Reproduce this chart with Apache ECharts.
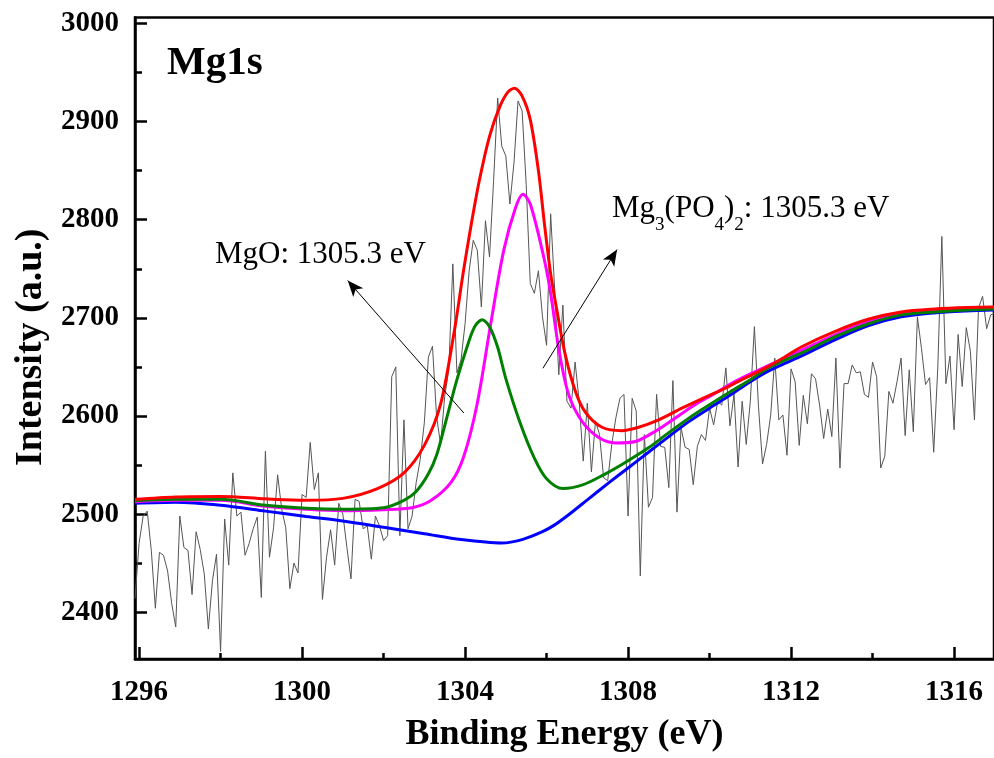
<!DOCTYPE html>
<html>
<head>
<meta charset="utf-8">
<title>Mg1s XPS</title>
<script src="https://cdn.jsdelivr.net/npm/echarts@6.0.0/dist/echarts.min.js"></script>
<style>
  html, body { margin: 0; padding: 0; background: #fff; }
  #chart { width: 994px; height: 758px; }
</style>
</head>
<body>
<div id="chart"></div>
<script>
// raw counts, one every 0.1 eV from 1295.9 eV
const rawCounts = [
  2414, 2470, 2498, 2503, 2463, 2404, 2461, 2458, 2442, 2409, 2385, 2498, 2466, 2463, 2418, 2482,
  2464, 2439, 2383, 2432, 2459, 2360, 2495, 2448, 2542, 2498, 2502, 2458, 2470, 2485, 2497, 2415,
  2564, 2456, 2486, 2540, 2505, 2486, 2424, 2450, 2440, 2520, 2517, 2573, 2525, 2542, 2413, 2456,
  2484, 2448, 2511, 2500, 2466, 2434,
  2515, 2513, 2485, 2488, 2454, 2498, 2488, 2473, 2478, 2640, 2650, 2478, 2596, 2485, 2498, 2532,
  2556, 2593, 2660, 2671, 2600, 2571, 2620, 2647, 2755, 2644, 2657, 2694, 2748, 2779, 2769, 2711,
  2799, 2762, 2840, 2924, 2875, 2865, 2816, 2858, 2921, 2911, 2836, 2735, 2725, 2748, 2701, 2672,
  2806, 2728,
  2642, 2713, 2615, 2608, 2655, 2615, 2554, 2613, 2543, 2595, 2581, 2537, 2534, 2571, 2598, 2618,
  2622, 2498, 2618, 2605, 2437, 2581, 2507, 2517, 2622, 2569, 2568, 2527, 2636, 2502, 2588, 2568,
  2566, 2530, 2569, 2581, 2575, 2608, 2591, 2615, 2611, 2649, 2590, 2622, 2548, 2615, 2571, 2615,
  2691, 2610, 2551, 2571, 2601, 2659,
  2596, 2601, 2560, 2648, 2635, 2570, 2621, 2592, 2643, 2638, 2611, 2577, 2607, 2579, 2659, 2547,
  2633, 2633, 2652, 2644, 2645, 2622, 2619, 2655, 2640, 2547, 2559, 2625, 2613, 2635, 2659, 2580,
  2647, 2584, 2701, 2669, 2632, 2639, 2563, 2649, 2783, 2633, 2661, 2586, 2683, 2630, 2690, 2666,
  2596, 2710, 2722, 2689, 2703, 2705
];
const rawStart = 1295.9;
const rawStep = 0.1;

// fitted curves, [binding energy, intensity]
const background = [
  [1295.9, 2511], [1296.9, 2512], [1298.0, 2509], [1299.1, 2503], [1300.1, 2497.5], [1301.0, 2493],
  [1302.0, 2486.5], [1303.0, 2480], [1303.9, 2474], [1304.9, 2470.5], [1305.4, 2474], [1305.9, 2482],
  [1306.2, 2489], [1306.5, 2498], [1307.0, 2514.5], [1307.5, 2531], [1308.0, 2547], [1308.5, 2563],
  [1309.0, 2579], [1309.5, 2594.5], [1310.0, 2608], [1310.5, 2621], [1311.0, 2635], [1311.5, 2647],
  [1312.3, 2662], [1313.1, 2678], [1313.9, 2692], [1314.7, 2701], [1315.5, 2705], [1316.3, 2707],
  [1317.0, 2708]
];
const mgoFit = [
  [1295.9, 2513.5], [1296.9, 2515], [1298.0, 2515], [1299.1, 2509], [1300.1, 2506], [1301.0, 2505],
  [1302.0, 2506.5], [1302.5, 2514], [1302.8, 2523], [1303.1, 2541], [1303.3, 2560], [1303.5, 2590],
  [1303.8, 2637], [1304.1, 2677], [1304.25, 2692], [1304.42, 2698], [1304.6, 2691], [1304.8, 2670],
  [1305.0, 2638], [1305.35, 2593], [1305.7, 2557], [1306.0, 2536], [1306.4, 2526], [1306.9, 2530],
  [1307.4, 2540], [1307.85, 2550.5], [1308.5, 2567.5], [1309.0, 2583], [1309.5, 2598], [1310.0, 2611.5],
  [1310.5, 2624.5], [1311.0, 2637], [1311.44, 2649], [1312.3, 2665], [1313.1, 2681], [1313.9, 2694],
  [1314.7, 2703], [1315.5, 2706], [1316.3, 2708], [1317.0, 2709]
];
const phosphateFit = [
  [1295.9, 2512.5], [1297.0, 2514], [1298.0, 2514], [1299.1, 2508], [1300.1, 2505], [1301.0, 2503.5],
  [1302.0, 2504.5], [1302.7, 2506.5], [1303.15, 2513.5], [1303.65, 2532], [1303.97, 2559], [1304.3, 2613],
  [1304.63, 2694], [1304.95, 2769], [1305.24, 2812.5], [1305.42, 2826], [1305.6, 2816], [1305.93, 2762],
  [1306.1, 2725], [1306.3, 2668], [1306.54, 2622], [1306.87, 2594.5], [1307.28, 2578], [1307.69, 2572.5],
  [1308.18, 2574], [1308.67, 2584.5], [1309.16, 2598], [1309.64, 2611.5], [1310.13, 2623], [1310.62, 2635],
  [1311.11, 2645], [1311.68, 2656], [1312.26, 2667], [1313.07, 2682.5], [1313.89, 2696], [1314.7, 2704],
  [1315.52, 2707], [1316.34, 2709], [1317.0, 2709.5]
];
const envelope = [
  [1295.9, 2515], [1296.9, 2517.5], [1298.0, 2518], [1299.1, 2515.5], [1300.1, 2514], [1301.0, 2516],
  [1301.85, 2526], [1302.5, 2542], [1303.0, 2570], [1303.4, 2612], [1303.75, 2690], [1303.95, 2745],
  [1304.15, 2795], [1304.35, 2840], [1304.6, 2885], [1304.85, 2915], [1305.05, 2930], [1305.21, 2934],
  [1305.4, 2926], [1305.6, 2902], [1305.8, 2850], [1305.95, 2795], [1306.1, 2745], [1306.26, 2706],
  [1306.45, 2664], [1306.7, 2626], [1306.95, 2604], [1307.36, 2588.5], [1307.85, 2585], [1308.26, 2588.5],
  [1308.75, 2596], [1309.32, 2608], [1309.81, 2617.5], [1310.3, 2626.5], [1310.79, 2637], [1311.28, 2647],
  [1311.68, 2656], [1312.26, 2670.5], [1313.07, 2686], [1313.89, 2698.5], [1314.7, 2706], [1315.52, 2709],
  [1316.34, 2710.5], [1317.0, 2711]
];

const xMajorTicks = [1296, 1300, 1304, 1308, 1312, 1316];
const xMinorTicks = [1298, 1302, 1306, 1310, 1314];
const yMajorTicks = [2400, 2500, 2600, 2700, 2800, 2900, 3000];
const yMinorTicks = [2450, 2550, 2650, 2750, 2850, 2950];

// annotation arrows: [from, to] in data coordinates
const arrows = [
  [[1303.97, 2603], [1301.12, 2738]],
  [[1305.91, 2648.6], [1307.73, 2769.6]]
];

const serif = '"Liberation Serif", "Times New Roman", serif';
const rawData = rawCounts.map((v, i) => [+(rawStart + i * rawStep).toFixed(1), v]);

const chart = echarts.init(document.getElementById('chart'));

const xBase = {
  type: 'value', min: 1295.9, max: 1316.98, gridIndex: 0,
  splitLine: { show: false }
};
const yBase = {
  type: 'value', min: 2352.3, max: 3006.1, gridIndex: 0,
  splitLine: { show: false }
};

const option = {
  animation: false,
  backgroundColor: '#fff',
  grid: {
    left: 135, right: -2, top: 17.5, bottom: 96,
    show: true, borderColor: '#000', borderWidth: 2.5, backgroundColor: 'transparent'
  },
  xAxis: [
    Object.assign({}, xBase, {
      position: 'bottom',
      axisLine: { show: true, lineStyle: { color: '#000', width: 2.5 } },
      axisTick: { show: true, inside: true, length: 12, lineStyle: { color: '#000', width: 2.5 }, customValues: xMajorTicks },
      axisLabel: {
        show: true, customValues: xMajorTicks, margin: 19,
        formatter: v => String(v),
        color: '#000', fontFamily: serif, fontWeight: 'bold', fontSize: 29
      },
      name: 'Binding Energy (eV)',
      nameLocation: 'middle',
      nameGap: 58,
      nameTextStyle: { color: '#000', fontFamily: serif, fontWeight: 'bold', fontSize: 36 }
    }),
    Object.assign({}, xBase, {
      position: 'bottom',
      axisLine: { show: false },
      axisTick: { show: true, inside: true, length: 6, lineStyle: { color: '#000', width: 2.5 }, customValues: xMinorTicks },
      axisLabel: { show: false }
    })
  ],
  yAxis: [
    Object.assign({}, yBase, {
      position: 'left',
      axisLine: { show: true, lineStyle: { color: '#000', width: 2.5 } },
      axisTick: { show: true, inside: true, length: 12, lineStyle: { color: '#000', width: 2.5 }, customValues: yMajorTicks },
      axisLabel: {
        show: true, customValues: yMajorTicks, margin: 16,
        formatter: v => String(v),
        color: '#000', fontFamily: serif, fontWeight: 'bold', fontSize: 29
      },
      name: 'Intensity (a.u.)',
      nameLocation: 'middle',
      nameGap: 85,
      nameTextStyle: {
        color: '#000', fontFamily: serif, fontWeight: 'bold', fontSize: 38,
        padding: [0, 18, 0, 0]
      }
    }),
    Object.assign({}, yBase, {
      position: 'left',
      axisLine: { show: false },
      axisTick: { show: true, inside: true, length: 7, lineStyle: { color: '#000', width: 2.5 }, customValues: yMinorTicks },
      axisLabel: { show: false }
    })
  ],
  series: [
    {
      name: 'Raw', type: 'line', data: rawData, showSymbol: false,
      lineStyle: { color: '#555', width: 1 }, silent: true
    },
    {
      name: 'Background', type: 'line', data: background, showSymbol: false, smooth: 0.3,
      lineStyle: { color: '#0000ff', width: 3 }, silent: true
    },
    {
      name: 'Mg3(PO4)2', type: 'line', data: phosphateFit, showSymbol: false, smooth: 0.3,
      lineStyle: { color: '#ff00ff', width: 3 }, silent: true
    },
    {
      name: 'MgO', type: 'line', data: mgoFit, showSymbol: false, smooth: 0.3,
      lineStyle: { color: '#008000', width: 3 }, silent: true
    },
    {
      name: 'Envelope', type: 'line', data: envelope, showSymbol: false, smooth: 0.3,
      lineStyle: { color: '#ff0000', width: 3 }, silent: true,
      markLine: {
        silent: true,
        symbol: ['none', 'arrow'],
        symbolSize: [10, 16],
        label: { show: false },
        lineStyle: { color: '#000', width: 1, type: 'solid' },
        data: arrows.map(a => [{ coord: a[0] }, { coord: a[1] }])
      }
    }
  ],
  graphic: [
    {
      type: 'text', left: 167, top: 43,
      style: { text: 'Mg1s', fill: '#000', font: 'bold 41px ' + serif }
    },
    {
      type: 'text', left: 215, top: 239,
      style: { text: 'MgO: 1305.3 eV', fill: '#000', font: '31px ' + serif }
    },
    {
      type: 'text', left: 612, top: 193,
      style: {
        text: '{m|Mg}{s|3}{m|(PO}{s|4}{m|)}{s|2}{m|: 1305.3 eV}',
        rich: {
          m: { fontFamily: serif, fontSize: 31, lineHeight: 52, fill: '#000', verticalAlign: 'middle' },
          s: { fontFamily: serif, fontSize: 19, lineHeight: 19, fill: '#000', verticalAlign: 'bottom' }
        }
      }
    }
  ]
};

chart.setOption(option);
</script>
</body>
</html>
